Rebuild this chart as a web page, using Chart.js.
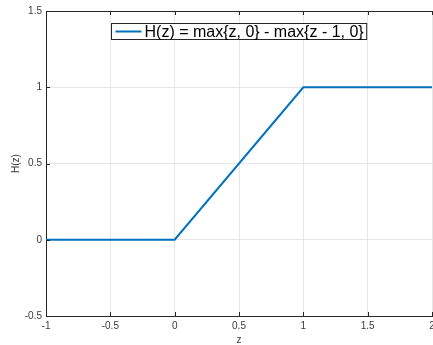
<!DOCTYPE html>
<html lang="en">
<head>
  <meta charset="UTF-8" />
  <title>H(z) piecewise plot</title>
  <script src="https://cdn.jsdelivr.net/npm/chart.js"></script>
  <style>
    body {
      margin: 0;
      background: #fff;
    }
    canvas {
      display: block;
    }
  </style>
</head>
<body>
  <canvas id="chart" width="433" height="345"></canvas>

  <script>
    // breakpoints of H(z) = max{z, 0} - max{z - 1, 0}
    const zValues = [-1, 0, 1, 2];
    const hValues = [0, 0, 1, 1];
    const seriesLabel = 'H(z) = max{z, 0} - max{z - 1, 0}';
    const xLabel = 'z';
    const yLabel = 'H(z)';

    const axisColor = '#262626';
    const tickColor = '#3a3a3a';
    const gridColor = '#e6e6e6';
    const lineColor = '#0072BD';
    const fontFamily = "'Liberation Sans', Arial, sans-serif";

    // plain number labels: 1 not 1.0
    const fmt = v => String(Math.round(v * 10) / 10);

    // MATLAB-ish frame: top border plus inward tick marks
    const framePlugin = {
      id: 'frame',
      afterDatasetsDraw(chart) {
        const { ctx, chartArea: a, scales } = chart;
        ctx.save();
        ctx.strokeStyle = axisColor;
        ctx.lineWidth = 1;
        ctx.beginPath();
        ctx.moveTo(a.left, a.top + 0.5);
        ctx.lineTo(a.right, a.top + 0.5);
        scales.x.ticks.forEach(t => {
          const px = Math.round(scales.x.getPixelForValue(t.value)) + 0.5;
          ctx.moveTo(px, a.bottom);
          ctx.lineTo(px, a.bottom - 4);
          ctx.moveTo(px, a.top);
          ctx.lineTo(px, a.top + 4);
        });
        scales.y.ticks.forEach(t => {
          const py = Math.round(scales.y.getPixelForValue(t.value)) + 0.5;
          ctx.moveTo(a.left, py);
          ctx.lineTo(a.left + 4, py);
        });
        ctx.stroke();
        ctx.restore();
      }
    };

    // legend box drawn inside the axes, top centre
    const insideLegend = {
      id: 'insideLegend',
      afterDraw(chart) {
        const { ctx, chartArea: a } = chart;
        const ds = chart.data.datasets[0];
        ctx.save();
        ctx.font = '16px ' + fontFamily;
        const tw = ctx.measureText(ds.label).width;
        const w = 4 + 26 + 3 + tw + 3;
        const h = 16;
        const x = Math.round((a.left + a.right) / 2 - w / 2) + 0.5;
        const y = a.top + 12.5;
        ctx.fillStyle = '#fff';
        ctx.fillRect(x, y, w, h);
        ctx.strokeStyle = axisColor;
        ctx.lineWidth = 1;
        ctx.strokeRect(x, y, w, h);
        ctx.strokeStyle = ds.borderColor;
        ctx.lineWidth = 2;
        ctx.beginPath();
        ctx.moveTo(x + 4, y + h / 2);
        ctx.lineTo(x + 30, y + h / 2);
        ctx.stroke();
        ctx.fillStyle = '#000';
        ctx.textBaseline = 'middle';
        ctx.fillText(ds.label, x + 33, y + h / 2 + 1);
        ctx.restore();
      }
    };

    new Chart(document.getElementById('chart'), {
      type: 'line',
      data: {
        datasets: [{
          label: seriesLabel,
          data: zValues.map((z, i) => ({ x: z, y: hValues[i] })),
          borderColor: lineColor,
          backgroundColor: lineColor,
          borderWidth: 2,
          pointRadius: 0,
          tension: 0,
          fill: false
        }]
      },
      options: {
        responsive: false,
        animation: false,
        devicePixelRatio: 1,
        layout: { padding: { top: 11, right: 1, left: 0, bottom: 0 } },
        plugins: {
          legend: { display: false },
          tooltip: { enabled: false }
        },
        scales: {
          x: {
            type: 'linear',
            min: -1,
            max: 2,
            ticks: {
              stepSize: 0.5,
              padding: 4,
              color: tickColor,
              font: { family: fontFamily, size: 10 },
              callback: fmt
            },
            grid: { color: gridColor, drawTicks: false },
            border: { color: axisColor, width: 1 },
            title: {
              display: true,
              text: xLabel,
              color: tickColor,
              padding: 0,
              font: { family: fontFamily, size: 10, lineHeight: 1 }
            },
            afterFit(scale) {
              scale.height = 29;
              scale.paddingLeft = 0;
              scale.paddingRight = 0;
            }
          },
          y: {
            type: 'linear',
            min: -0.5,
            max: 1.5,
            ticks: {
              stepSize: 0.5,
              padding: 4,
              color: tickColor,
              font: { family: fontFamily, size: 10 },
              callback: fmt
            },
            grid: { color: gridColor, drawTicks: false },
            border: { color: axisColor, width: 1 },
            title: {
              display: true,
              text: yLabel,
              color: tickColor,
              padding: { top: 10, bottom: 0 },
              font: { family: fontFamily, size: 10 }
            },
            afterFit(scale) {
              scale.width = 46;
              scale.paddingTop = 0;
              scale.paddingBottom = 0;
            }
          }
        }
      },
      plugins: [framePlugin, insideLegend]
    });
  </script>
</body>
</html>
